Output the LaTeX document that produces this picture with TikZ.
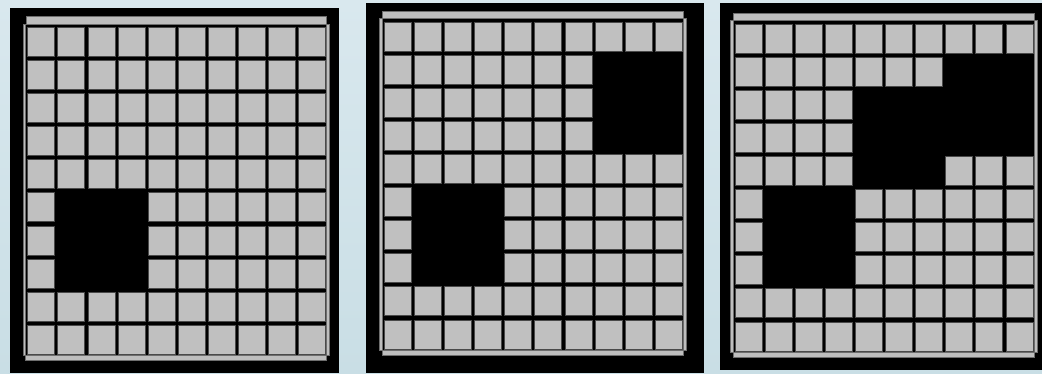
\documentclass[tikz,border=0pt]{standalone}
\usetikzlibrary{calc}
\definecolor{cellgray}{HTML}{C0C0C0}
\definecolor{celledge}{HTML}{4A4A4A}
\definecolor{railgray}{HTML}{BEBEBE}
\definecolor{railedge}{HTML}{6E6E6E}
\definecolor{skytop}{HTML}{D9E8EE}
\definecolor{skybottom}{HTML}{C9DEE5}

% panel: black frame corners, then grid origin
\newcommand{\drawpanel}[6]{%
  \fill[black] (#1,#2) rectangle (#3,#4);
  \foreach \c in {0,...,9} {
    \foreach \r in {0,...,9} {
      \draw[cell] ({#5+\c*30.1},{#6+\r*33.1}) rectangle ++(27,29);
    }
  }
}
% hole: grid origin, first/last column, first/last row
\newcommand{\drawhole}[6]{%
  \fill[black] ({#1+#3*30.1-1.2},{#2+#5*33.1-2}) rectangle ({#1+#4*30.1+28.2},{#2+#6*33.1+31});
}
% rails round the grid
\newcommand{\drawrails}[2]{%
  \draw[rail] ({#1-1.5},{#2-10.5}) rectangle ({#1+299},{#2-3.2});
  \draw[rail] ({#1-4.6},{#2-3.2}) rectangle ({#1-2},{#2+328});
  \draw[rail] ({#1+299},{#2-3.2}) rectangle ({#1+302},{#2+328});
  \draw[rail] ({#1-2},{#2+328}) rectangle ({#1+299},{#2+333});
}

\begin{document}
\begin{tikzpicture}[
    x=1pt, y=-1pt,
    cell/.style={fill=cellgray, draw=celledge, line width=0.8pt},
    rail/.style={fill=railgray, draw=railedge, line width=0.7pt}
]
    \useasboundingbox (0,0) rectangle (1042,373);
    \shade[top color=skytop, bottom color=skybottom] (0,0) rectangle (1042,373);

    % =========================================================================
    % PANEL 1
    % =========================================================================
    \drawpanel{10}{8}{339}{373}{27.7}{27.3}
    \drawhole{27.7}{27.3}{1}{3}{5}{7}
    \drawrails{27.7}{27.3}

    % =========================================================================
    % PANEL 2
    % =========================================================================
    \drawpanel{366}{3}{704}{373}{384.3}{22}
    \drawhole{384.3}{22}{7}{9}{1}{3}
    \drawhole{384.3}{22}{1}{3}{5}{7}
    \drawrails{384.3}{22}

    % =========================================================================
    % PANEL 3
    % =========================================================================
    \drawpanel{720}{3}{1042}{370}{735}{24}
    \drawhole{735}{24}{7}{9}{1}{1}
    \drawhole{735}{24}{4}{9}{2}{3}
    \drawhole{735}{24}{4}{6}{4}{4}
    \drawhole{735}{24}{1}{3}{5}{7}
    \drawrails{735}{24}

\end{tikzpicture}
\end{document}
